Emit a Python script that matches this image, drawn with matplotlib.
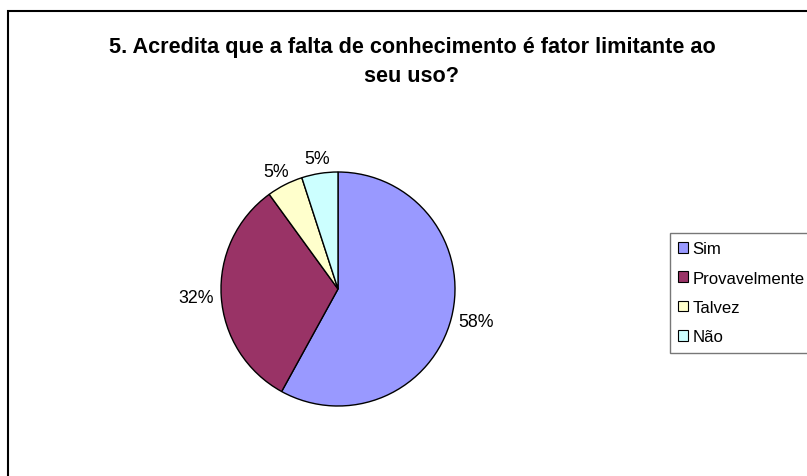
import numpy as np
import matplotlib.pyplot as plt
from matplotlib.patches import Rectangle

plt.rcParams['font.family'] = ['Liberation Sans', 'DejaVu Sans']

title = "5. Acredita que a falta de conhecimento é fator limitante ao\nseu uso?"
categories = ["Sim", "Provavelmente", "Talvez", "Não"]
values = [58, 32, 5, 5]
colors = ["#9999FF", "#993366", "#FFFFCC", "#CCFFFF"]

W, H = 807, 477
fig = plt.figure(figsize=(W / 100, H / 100), dpi=100)

# outer chart border (right and bottom run off the image)
fig.patches.append(Rectangle((8 / W, -0.2), 1.2, 1.2 - 12 / H, transform=fig.transFigure,
                             fill=False, edgecolor="black", linewidth=1.5, clip_on=False))

fig.text(412 / W, 1 - 62 / H, title, ha="center", va="center", fontsize=15.6,
         fontweight="bold", linespacing=1.5)

# pie centre (338, 290), radius 117 px
cx, cy, r = 338, 290, 117
ax = fig.add_axes([(cx - r) / W, (H - cy - r) / H, 2 * r / W, 2 * r / H])
wedges, _ = ax.pie(values, colors=colors, startangle=90, counterclock=False,
                   wedgeprops=dict(edgecolor="black", linewidth=1))
ax.set_xlim(-1, 1)
ax.set_ylim(-1, 1)
ax.set_aspect("equal")
ax.axis("off")

for w, v in zip(wedges, values):
    ang = np.deg2rad((w.theta1 + w.theta2) / 2)
    dx, dy = np.cos(ang), np.sin(ang)
    txt = "%d%%" % v
    tw = 11.5 * len(txt)
    th = 14
    ax.annotate(txt, xy=(1.07 * dx, 1.07 * dy), xytext=(dx * tw / 2 * 0.72, dy * th / 2 * 0.72),
                textcoords="offset points", ha="center", va="center", fontsize=12.8,
                annotation_clip=False)

leg = fig.legend(wedges, categories, loc="upper left", bbox_to_anchor=(670 / W, 1 - 234 / H),
                 fontsize=12.1, frameon=True, fancybox=False, handlelength=0.6, handleheight=0.6,
                 handletextpad=0.25, labelspacing=0.85, borderpad=0.5, borderaxespad=0)
leg.get_frame().set_edgecolor("#555555")
leg.get_frame().set_linewidth(1)
for h in leg.legend_handles:
    h.set_edgecolor("black")
    h.set_linewidth(0.8)

fig.savefig("out.png", dpi=100)
